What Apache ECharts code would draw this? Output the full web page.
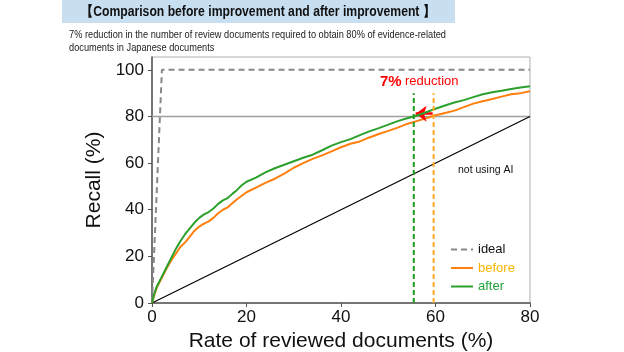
<!DOCTYPE html>
<html>
<head>
<meta charset="utf-8">
<script src="https://cdn.jsdelivr.net/npm/echarts@6/dist/echarts.min.js"></script>
<style>
html,body{margin:0;padding:0;background:#fff;}
#c{width:624px;height:352px;}
</style>
</head>
<body>
<div id="c"></div>
<script>
// ---- data ----
const reviewRate = [0,0.5,1,2,3,4,5,6,7,8,9,10,11,12,13,14,15,16,17,18,19,20,22,24,26,28,30,32,34,36,38,40,42,44,46,48,50,52,54,56,58,60,62,64,66,68,70,72,74,76,78,80];
const recallAfter = [0,4,7,11,15,19,23,26.5,29.5,32,34.5,36.5,38,39,40.5,42.5,44,45,46.8,48.5,50.5,52,53.8,56,57.8,59.3,60.8,62.3,63.6,65.5,67.5,69,70.3,72,73.6,75,76.5,78,79.2,80.3,81.8,83.3,84.7,86,87,88.3,89.5,90.4,91,91.8,92.4,93];
const recallBefore = [0,3.5,6.5,10.5,14.5,18,21,24,26,28.5,31,32.8,34,35,36.5,38.5,40,41,42.8,44.5,46,47.5,49.5,51.5,53.3,55.5,58,60,61.8,63.3,65,66.8,68.3,69.3,71,72.5,73.8,75.2,76.8,78,79.2,80.5,81.5,82.5,84,85.5,86.5,87.5,88.5,89.5,90,90.8];
const idealX = [0,2.1,80];
const idealY = [0,100,100];
const noAiX = [0,80];
const noAiY = [0,80];
const targetRecall = 80;
const afterCut = 55.4;
const beforeCut = 59.6;
const cutTop = 90;
const arrowY = 81.2;
const xTicks = [0,20,40,60,80];
const yTicks = [0,20,40,60,80,100];
const titleText = '【Comparison before improvement and after improvement 】';
const subtitleText = '7% reduction in the number of review documents required to obtain 80% of evidence-related\ndocuments in Japanese documents';

const zip = (xs, ys) => xs.map((x,i)=>[x, ys[i]]);
const FONT = 'Liberation Sans, Arial, sans-serif';

const chart = echarts.init(document.getElementById('c'), null, {renderer:'canvas'});
chart.setOption({
  animation:false,
  backgroundColor:'#fff',
  grid:{left:152,right:94,top:57,bottom:49,show:true,borderColor:'#b0b0b0',borderWidth:1,outerBoundsMode:'none',containLabel:false},
  graphic:[
    {type:'rect',shape:{x:62,y:0,width:393,height:23},style:{fill:'#c8def1'},z:0},
    {type:'text',x:258,y:12,scaleX:0.87,style:{text:titleText,font:'bold 14px '+FONT,fill:'#111',align:'center',verticalAlign:'middle'}},
    {type:'text',x:69,y:29,scaleX:0.88,style:{text:subtitleText,font:'10.5px '+FONT,fill:'#222',lineHeight:13}},
    {type:'text',x:380,y:74,style:{text:'{a|7%} {b|reduction}',rich:{a:{font:'bold 15px '+FONT,fill:'#ff0000'},b:{font:'13px '+FONT,fill:'#ff0000'}}}},
    {type:'text',x:458,y:165,style:{text:'not using AI',font:'10.5px '+FONT,fill:'#111'}}
  ],
  xAxis:{type:'value',min:0,max:80,interval:20,
    axisLine:{lineStyle:{color:'#555',width:1.5}},
    axisTick:{show:true,length:4,lineStyle:{color:'#555'},customValues:xTicks},
    axisLabel:{color:'#111',fontSize:17,fontFamily:FONT,margin:6,customValues:xTicks},
    splitLine:{show:false},
    name:'Rate of reviewed documents (%)',nameLocation:'middle',nameGap:27,
    nameTextStyle:{fontSize:21,color:'#111',fontFamily:FONT}},
  yAxis:{type:'value',min:0,max:105.5,
    axisLine:{show:true,lineStyle:{color:'#555',width:1.5}},
    axisTick:{show:true,length:4,lineStyle:{color:'#555'},customValues:yTicks},
    axisLabel:{color:'#111',fontSize:17,fontFamily:FONT,margin:8,customValues:yTicks},
    splitLine:{show:false},
    name:'Recall (%)',nameLocation:'middle',nameGap:45,
    nameTextStyle:{fontSize:21,color:'#111',fontFamily:FONT}},
  legend:{orient:'vertical',left:445,top:238,itemWidth:22,itemHeight:12,itemGap:5.5,
    itemStyle:{opacity:0},
    data:[
      {name:'ideal',textStyle:{color:'#111'}},
      {name:'before',textStyle:{color:'#f7b500'}},
      {name:'after',textStyle:{color:'#20a43c'}}
    ],
    textStyle:{fontSize:13,fontFamily:FONT}},
  series:[
    {name:'ref80',type:'line',data:[[0,targetRecall],[80,targetRecall]],symbol:'none',lineStyle:{color:'#a0a0a0',width:1.5},z:1,silent:true},
    {name:'noAI',type:'line',data:zip(noAiX,noAiY),symbol:'none',lineStyle:{color:'#000',width:1.2},z:2,silent:true},
    {name:'ideal',type:'line',data:zip(idealX,idealY),symbol:'none',lineStyle:{color:'#888',width:2,type:[6,4]},itemStyle:{color:'#888'},z:3},
    {name:'before',type:'line',data:zip(reviewRate,recallBefore),symbol:'none',lineStyle:{color:'#ff7f0e',width:2},itemStyle:{color:'#ff7f0e'},z:4},
    {name:'after',type:'line',data:zip(reviewRate,recallAfter),symbol:'none',lineStyle:{color:'#2ca02c',width:2},itemStyle:{color:'#2ca02c'},z:5},
    {name:'afterCut',type:'line',data:[[afterCut,0],[afterCut,cutTop]],symbol:'none',lineStyle:{color:'#1f9a1f',width:2,type:[5,3]},z:6,silent:true},
    {name:'beforeCut',type:'line',data:[[beforeCut,0],[beforeCut,cutTop]],symbol:'none',lineStyle:{color:'#ffaa22',width:2,type:[5,3]},z:6,silent:true},
    {name:'arrow',type:'line',data:[],symbol:'none',z:8,silent:true,
      markLine:{silent:true,symbol:['none','arrow'],symbolSize:[12,11],label:{show:false},
        lineStyle:{color:'#ff0000',width:2.5,type:'solid'},
        data:[[{coord:[beforeCut-0.2,arrowY]},{coord:[afterCut+0.4,arrowY]}]]}}
  ]
});
</script>
</body>
</html>
